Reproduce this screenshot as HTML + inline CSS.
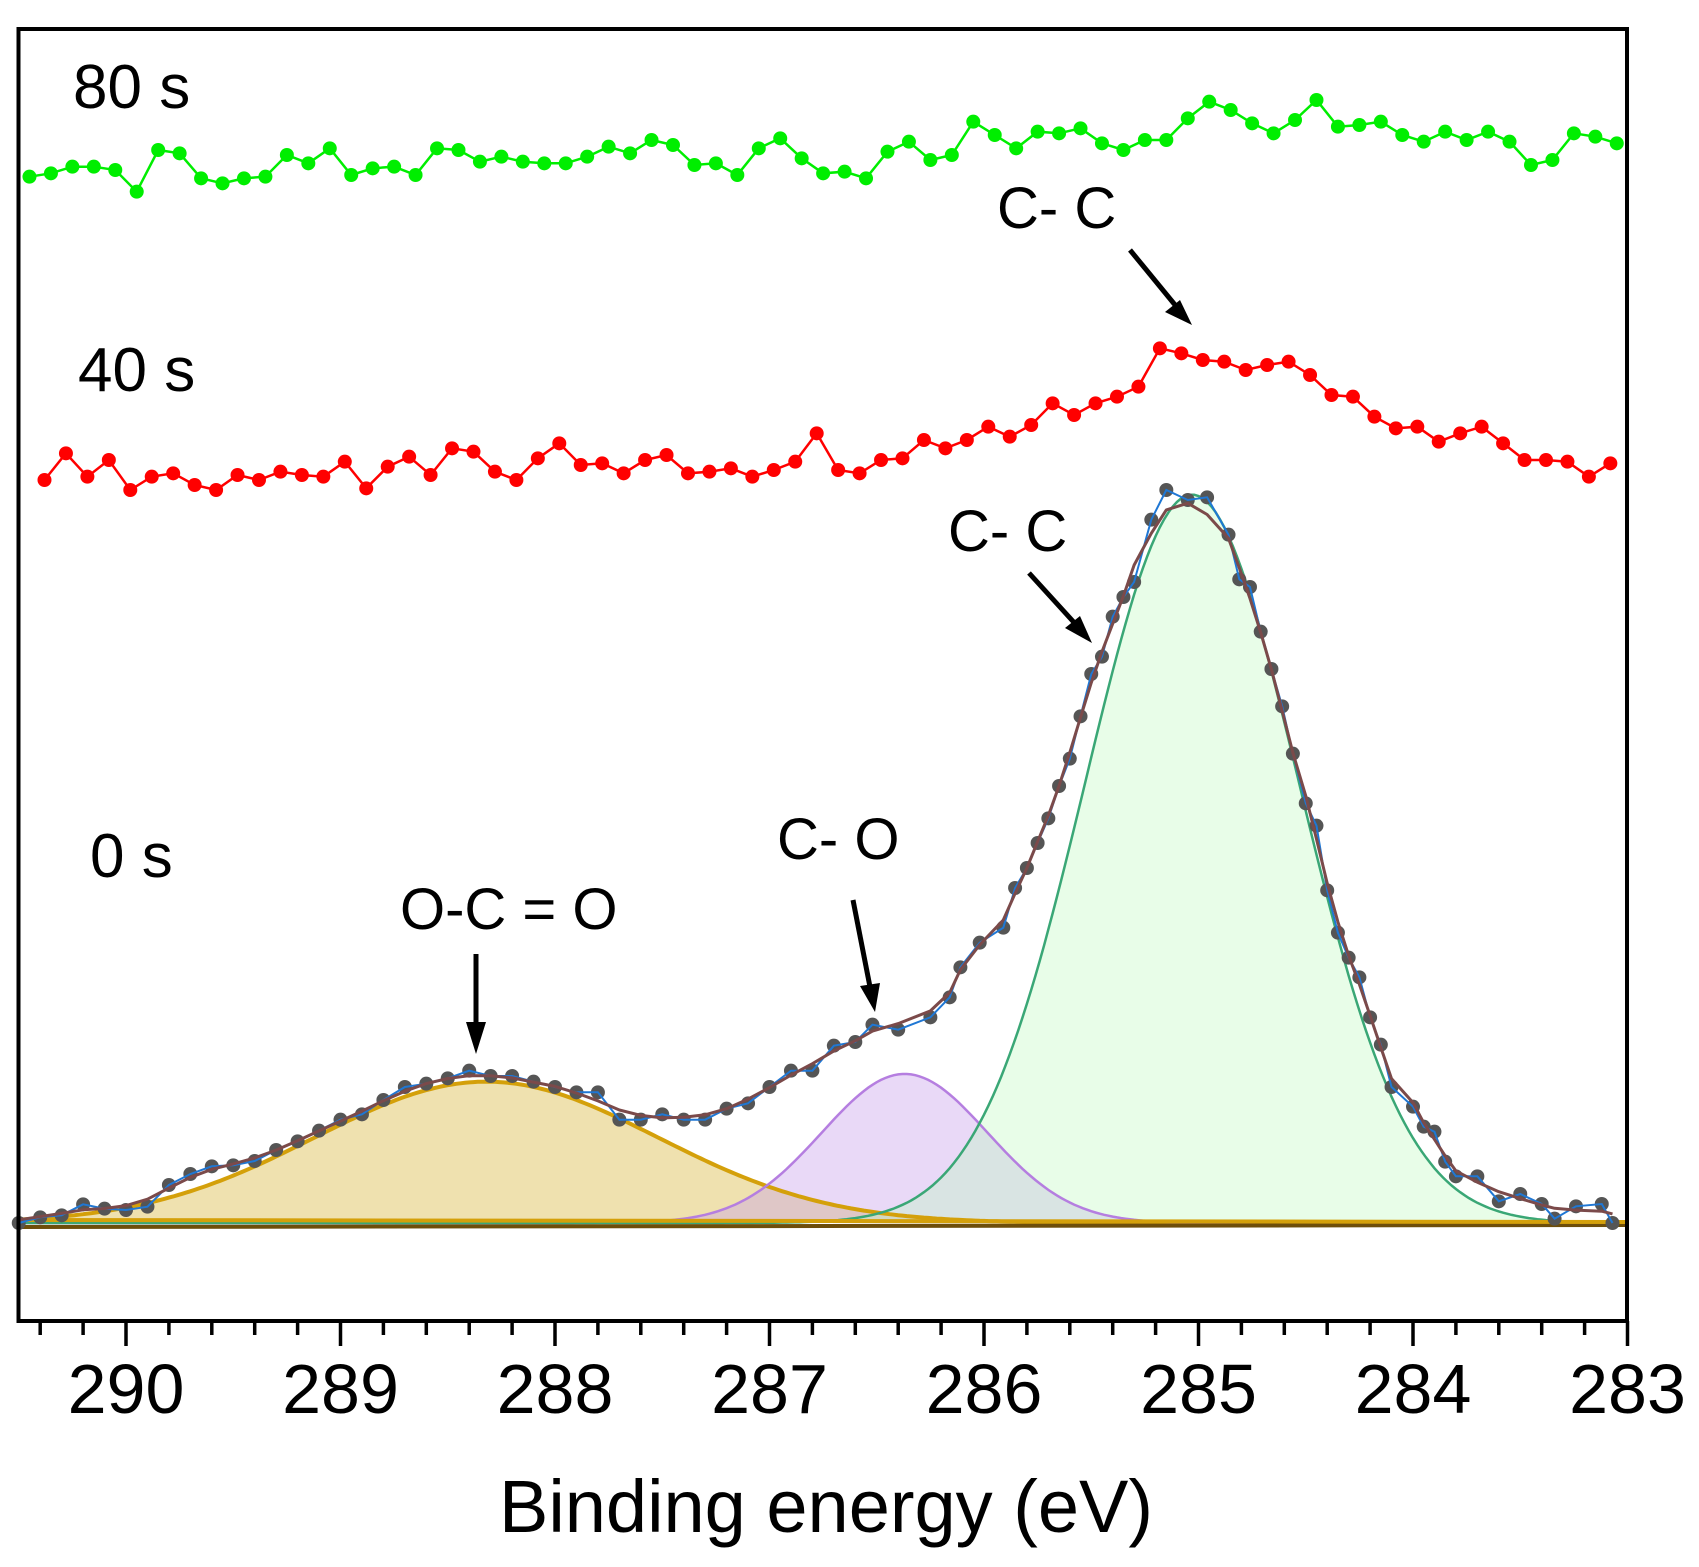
<!DOCTYPE html>
<html><head><meta charset="utf-8"><style>
html,body{margin:0;padding:0;background:#fff;}
svg{display:block;font-family:"Liberation Sans",Arial,sans-serif;}
</style></head><body>
<svg id="chart" width="1699" height="1567" viewBox="0 0 1699 1567" xmlns="http://www.w3.org/2000/svg">
<g id="fills"></g>
<g id="lines"></g>
<g id="axis"></g>
<rect x="18.5" y="29" width="1608.5" height="1292" fill="none" stroke="#000" stroke-width="4"/>
<text x="73" y="108" font-size="62">80 s</text>
<text x="78" y="391" font-size="62">40 s</text>
<text x="90" y="877" font-size="62">0 s</text>
<text x="997" y="228" font-size="58">C- C</text>
<text x="948" y="551" font-size="58">C- C</text>
<text x="777" y="859" font-size="58">C- O</text>
<text x="400" y="929" font-size="58">O-C = O</text>
<g stroke="#000" stroke-width="5" fill="#000">
<line x1="1130" y1="250" x2="1180" y2="311"/><polygon points="1192,325 1165,312 1180,300" stroke="none"/>
<line x1="1029" y1="573" x2="1080" y2="629"/><polygon points="1092,643 1065,628 1080,616" stroke="none"/>
<line x1="853" y1="900" x2="871" y2="992"/><polygon points="875,1012 860,986 880,983" stroke="none"/>
<line x1="476" y1="954" x2="476" y2="1030"/><polygon points="476,1054 466,1022 486,1022" stroke="none"/>
</g>
<text x="826" y="1532" font-size="74" text-anchor="middle">Binding energy (eV)</text>
</svg>
<script>
const green80 = [3139,3149,3169,3169,3159,3094,3219,3209,3134,3119,3134,3139,3204,3179,3224,3144,3164,3169,3144,3224,3219,3184,3199,3184,3179,3179,3199,3229,3209,3249,3234,3174,3179,3144,3224,3254,3194,3149,3154,3134,3214,3244,3189,3204,3304,3264,3224,3274,3269,3284,3239,3219,3249,3249,3314,3364,3339,3299,3269,3309,3369,3289,3294,3304,3264,3244,3274,3249,3274,3244,3174,3189,3269,3259,3239];
const red40 = [2229,2309,2239,2289,2199,2239,2249,2214,2199,2244,2229,2254,2244,2239,2284,2204,2269,2299,2244,2324,2314,2254,2229,2294,2339,2274,2279,2249,2289,2304,2249,2254,2264,2239,2259,2284,2369,2259,2249,2289,2294,2349,2324,2349,2389,2359,2394,2459,2424,2459,2479,2509,2624,2609,2589,2584,2559,2574,2584,2544,2484,2479,2419,2384,2389,2344,2369,2389,2339,2289,2289,2284,2239,2279];
const green80Start = 290.45, red40Start = 290.38, gridStep = 0.1;
const energy0 = [290.5,290.4,290.3,290.2,290.1,290.0,289.9,289.8,289.7,289.6,289.5,289.4,289.3,289.2,289.1,289.0,288.9,288.8,288.7,288.6,288.5,288.4,288.3,288.2,288.1,288.0,287.9,287.8,287.7,287.6,287.5,287.4,287.3,287.2,287.1,287.0,286.9,286.8,286.7,286.60,286.52,286.40,286.25,286.16,286.11,286.02,285.91,285.855,285.80,285.75,285.70,285.65,285.60,285.55,285.50,285.45,285.40,285.35,285.30,285.22,285.15,285.05,284.96,284.86,284.81,284.76,284.71,284.66,284.61,284.56,284.50,284.45,284.40,284.35,284.30,284.25,284.20,284.15,284.10,284.00,283.95,283.90,283.85,283.80,283.70,283.60,283.50,283.40,283.34,283.24,283.12,283.07];
const counts0 = [0,17,23,56,43,39,49,114,147,170,173,186,219,245,277,310,326,369,408,418,434,457,441,441,424,408,392,392,310,310,326,310,310,343,359,408,457,457,532,543,595,580,617,677,767,841,886,1005,1065,1140,1214,1311,1393,1520,1647,1699,1819,1878,1923,2110,2199,2169,2177,2065,1931,1908,1774,1662,1550,1408,1259,1192,998,871,796,737,617,535,408,349,289,274,184,140,140,65,87,57,13,50,57,0];
const peakCenters = [288.32, 286.37, 285.03];
const peakHeights = [424, 447, 2185];
const peakFwhm = [1.88, 0.91, 1.17];
const xTicks = [290,289,288,287,286,285,284,283];
const xTickLabels = ["290","289","288","287","286","285","284","283"];

const NS = "http://www.w3.org/2000/svg";
const xScale = e => 126 + (290 - e) * 214.5;
const yScale = v => 1223 - v / 3;
const fillsG = document.getElementById('fills');
const linesG = document.getElementById('lines');
const axisG = document.getElementById('axis');
function mk(tag, attrs, parent){const el=document.createElementNS(NS,tag);for(const k in attrs)el.setAttribute(k,attrs[k]);parent.appendChild(el);return el;}
function gauss(e,i){const s=peakFwhm[i]/2.3548;return peakHeights[i]*Math.exp(-0.5*Math.pow((e-peakCenters[i])/s,2));}

const compFill = ["rgba(226,200,110,0.55)","rgba(200,160,235,0.4)","rgba(190,250,190,0.35)"];
const compStroke = ["#d4a00a","#b57ee0","#3aa776"];
const compWidth = [4,2.5,2.5];
const compNames = ["peak-oco","peak-co","peak-cc"];
for (let i=0;i<3;i++){
  let pts=[];
  for(let e=290.5;e>=283.0-1e-9;e-=0.02){pts.push(xScale(e).toFixed(1)+","+yScale(gauss(e,i)).toFixed(1));}
  const line = "M"+pts.join(" L");
  const fp = mk('path',{d:"M"+xScale(290.5)+","+yScale(0)+" L"+pts.join(" L")+" L"+xScale(283)+","+yScale(0)+" Z",fill:compFill[i],stroke:"none"},fillsG);
  
  
  const lp = mk('path',{d:line,fill:"none",stroke:compStroke[i],"stroke-width":compWidth[i]},linesG);
  
  
}
const bl1 = mk('line',{x1:xScale(290.5),y1:yScale(0)+4,x2:xScale(283),y2:yScale(0)+2,stroke:"#6e4e0a","stroke-width":4},linesG);


const bl2 = mk('line',{x1:xScale(290.5),y1:yScale(0)-3,x2:xScale(283),y2:yScale(0)-1,stroke:"#d4a00a","stroke-width":4},linesG);



let dd="";
counts0.forEach((v,i)=>{dd+=(i?" L":"M")+xScale(energy0[i]).toFixed(1)+","+yScale(v).toFixed(1);});
const dots0 = mk('g',{},linesG);


counts0.forEach((v,i)=>{
  const c = mk('circle',{cx:xScale(energy0[i]),cy:yScale(v),r:7,fill:"#555"},dots0);
  
  
});
const bl = mk('path',{d:dd,fill:"none",stroke:"#1f77d4","stroke-width":2},linesG);


let ed="";
const n0 = counts0.length;
counts0.forEach((v,i)=>{
  const w=[1,2,3,2,1];let s=0,ws=0;
  for(let k=-2;k<=2;k++){const j=i+k;if(j>=0&&j<n0){s+=w[k+2]*counts0[j];ws+=w[k+2];}}
  ed+=(i?" L":"M")+xScale(energy0[i]).toFixed(1)+","+yScale(s/ws).toFixed(1);
});
const env = mk('path',{d:ed,fill:"none",stroke:"#7b4a4a","stroke-width":3,"stroke-linejoin":"round"},linesG);



function drawSeries(vals,start,color,name){
  let d="";
  vals.forEach((v,i)=>{d+=(i?" L":"M")+xScale(start-i*gridStep).toFixed(1)+","+yScale(v).toFixed(1);});
  const p = mk('path',{d:d,fill:"none",stroke:color,"stroke-width":2.5},linesG);
  
  
  const g = mk('g',{},linesG);
  
  
  vals.forEach((v,i)=>{
    const c = mk('circle',{cx:xScale(start-i*gridStep),cy:yScale(v),r:7,fill:color},g);
    
    
  });
}
drawSeries(red40,red40Start,"#ff0000","series-40s");
drawSeries(green80,green80Start,"#00ee00","series-80s");

for(let k=0;k<=37;k++){
  const e = 290.4 - k*0.2;
  if (e < 282.99) break;
  const major = Math.abs(e-Math.round(e))<1e-6;
  const t = mk('line',{x1:xScale(e),x2:xScale(e),y1:1321,y2:1321+(major?25:14),stroke:"#000","stroke-width":3.5},axisG);
  
  
}
xTicks.forEach((e,i)=>{
  const t = mk('text',{x:xScale(e),y:1413,"font-size":70,"text-anchor":"middle"},axisG);
  t.textContent = xTickLabels[i];
  
  
});
</script>
</body></html>
